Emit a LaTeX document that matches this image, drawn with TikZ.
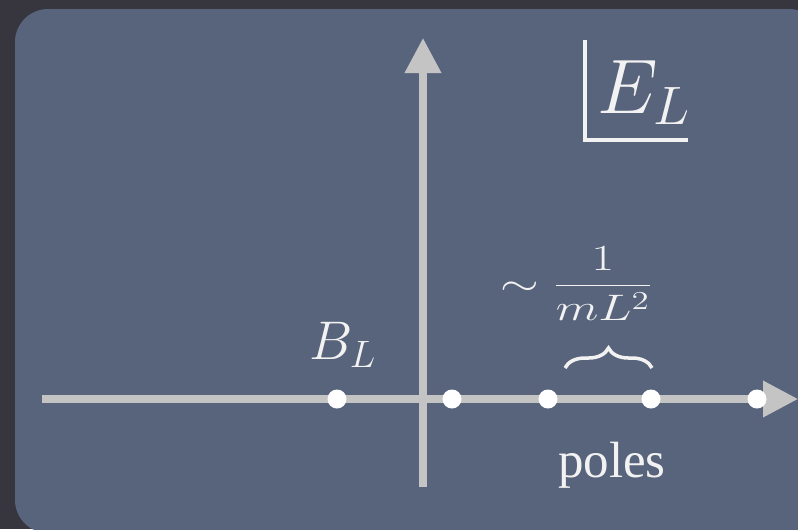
\RequirePackage{fix-cm}
\documentclass[tikz,border=0pt]{standalone}
\usepackage{fontspec}
\newfontfamily\polesfont{Liberation Serif}
\usetikzlibrary{arrows.meta, positioning, decorations.pathreplacing}
\definecolor{bgdark}{HTML}{37363F}
\definecolor{panelblue}{HTML}{58647C}
\definecolor{axisgray}{HTML}{C4C4C4}
\definecolor{labelwhite}{HTML}{F2F2F2}

\begin{document}
\begin{tikzpicture}[
    x=0.02cm, y=-0.02cm,
    % styles for axes, poles and labels
    axis/.style={draw=axisgray, line width=4pt, -{Triangle[length=0.7cm, width=0.7cm]}},
    pole/.style={circle, fill=white, inner sep=0pt, minimum size=0.38cm},
    mathlabel/.style={text=labelwhite, inner sep=0pt, anchor=base west},
    bracebar/.style={draw=labelwhite, line width=2pt, decorate, decoration={brace, amplitude=0.4cm}}
    ]

    % background and panel
    \useasboundingbox (0,0) rectangle (798,529);
    \fill[bgdark] (0,0) rectangle (798,529);
    \fill[panelblue, rounded corners=0.66cm] (15,9) rectangle (822,533);

    % axes
    \coordinate (xstart) at (42,399);
    \coordinate (xend) at (798,399);
    \coordinate (ystart) at (423,487);
    \coordinate (yend) at (423,38);
    \draw[axis] (xstart) -- (xend);
    \draw[axis] (ystart) -- (yend);

    % poles on the real axis
    \foreach \name/\px in {bound/337, p1/452, p2/548, p3/651, p4/757}
        \node[pole] (\name) at (\px,399) {};

    % labels
    \node[mathlabel, font=\fontsize{31}{36}\selectfont] (blabel) at (309,359) {$B_L$};
    \node[mathlabel, font=\fontsize{44}{50}\selectfont] (elabel) at (597,113) {$E_L$};
    \draw[labelwhite, line width=2.3pt] (585,40) |- (688,140);
    \node[mathlabel, font=\fontsize{21}{25}\selectfont] (spacing) at (500,295)
        {\scalebox{1.35}[1]{$\sim \displaystyle\frac{1}{mL^2}$}};
    \draw[bracebar] (565,368) -- (652,368);
    \node[text=labelwhite, inner sep=0pt, anchor=base, font=\polesfont\fontsize{29}{34}\selectfont]
        (poleslabel) at (612,477) {poles};

\end{tikzpicture}
\end{document}
